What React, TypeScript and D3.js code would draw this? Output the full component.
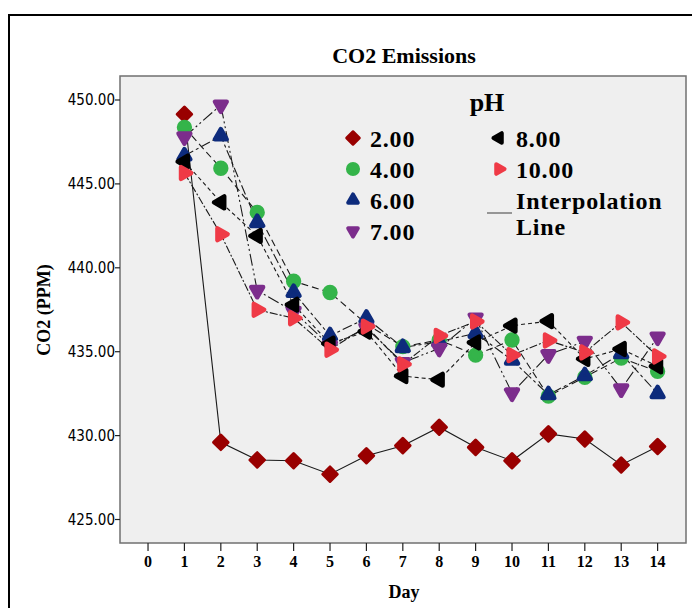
import React from "react";
import * as d3 from "d3";

const days = [1, 2, 3, 4, 5, 6, 7, 8, 9, 10, 11, 12, 13, 14];
const xTicks = [0, 1, 2, 3, 4, 5, 6, 7, 8, 9, 10, 11, 12, 13, 14];
const yTicks = [425, 430, 435, 440, 445, 450];

const ph2 = [449.15, 429.6, 428.55, 428.5, 427.7, 428.8, 429.4, 430.5, 429.3, 428.5, 430.1, 429.8, 428.25, 429.35];
const ph4 = [448.37, 445.93, 443.3, 439.2, 438.53, 436.65, 435.3, 435.7, 434.8, 435.7, 432.35, 433.48, 434.62, 433.83];
const ph6 = [446.67, 447.86, 442.7, 438.53, 435.95, 437.0, 435.25, 435.6, 436.1, 434.5, 432.44, 433.57, 434.88, 432.5];
const ph7 = [447.8, 449.7, 438.65, 437.4, 435.35, 436.4, 434.35, 435.2, 437.0, 432.54, 434.82, 435.62, 432.78, 435.87];
const ph8 = [446.33, 443.9, 441.9, 437.8, 435.48, 436.2, 433.55, 433.33, 435.55, 436.55, 436.82, 434.57, 435.16, 434.13];
const ph10 = [445.65, 442.0, 437.5, 437.0, 435.12, 436.5, 434.25, 435.95, 436.8, 434.8, 435.67, 434.96, 436.75, 434.72];

const seriesNames = ["2.00", "4.00", "6.00", "7.00", "8.00", "10.00"];
const seriesValues = [ph2, ph4, ph6, ph7, ph8, ph10];
const seriesColors = ["#990000", "#34b44a", "#0d2b7c", "#7c2d8c", "#000000", "#ef3a46"];
// symbol type and rotation for each pH
const seriesShapes = [
  { type: d3.symbolSquare, rotate: 45 },
  { type: d3.symbolCircle, rotate: 0 },
  { type: d3.symbolTriangle, rotate: 0 },
  { type: d3.symbolTriangle, rotate: 180 },
  { type: d3.symbolTriangle, rotate: -90 },
  { type: d3.symbolTriangle, rotate: 90 },
];
const seriesDash = ["none", "7,4", "10,3,3,3", "12,3,2,3,2,3", "4,3", "8,2,2,2"];

const W = 692, H = 608;
const plot = { left: 120, top: 76, right: 686, bottom: 543 };

const serif = "'Liberation Serif', 'Times New Roman', serif";
const narrow = "'Liberation Sans Narrow', 'DejaVu Sans Condensed', 'Liberation Sans', sans-serif";

const x = d3.scaleLinear().domain([-0.77, 14.78]).range([plot.left, plot.right]);
const y = d3.scaleLinear().domain([423.6, 451.43]).range([plot.bottom, plot.top]);

const symbolSize = (type: d3.SymbolType, legend: boolean) => {
  if (type === d3.symbolSquare) return legend ? 85 : 105;
  if (type === d3.symbolCircle) return legend ? 105 : 120;
  return legend ? 40 : 60;
};

const Marker = ({ i, cx, cy, legend = false }: { i: number; cx: number; cy: number; legend?: boolean }) => {
  const s = seriesShapes[i];
  const tri = s.type === d3.symbolTriangle;
  const path = d3.symbol().type(s.type).size(symbolSize(s.type, legend))() || "";
  return (
    <path
      d={path}
      transform={`translate(${cx},${cy}) rotate(${s.rotate})`}
      fill={seriesColors[i]}
      stroke={seriesColors[i]}
      strokeWidth={tri ? (legend ? 4 : 4.5) : legend ? 2.5 : 3}
      strokeLinejoin="round"
    />
  );
};

export default function App() {
  const line = d3
    .line<number>()
    .x((_, j) => x(days[j]))
    .y((v) => y(v));

  const legendCol1 = [0, 1, 2, 3];
  const legendCol2 = [4, 5];
  const rowY = [138, 169, 200, 231];

  return (
    <svg width={W} height={H} style={{ position: "absolute", left: 0, top: 0 }}>
      <rect x={0} y={0} width={W} height={H} fill="#ffffff" />
      <rect x={9} y={15} width={W + 10} height={H + 10} fill="none" stroke="#000" strokeWidth={2} />

      <text x={404} y={63} textAnchor="middle" fontFamily={serif} fontWeight="bold" fontSize={22}>
        CO2 Emissions
      </text>

      <rect
        x={plot.left}
        y={plot.top}
        width={plot.right - plot.left}
        height={plot.bottom - plot.top}
        fill="#efefef"
        stroke="#707070"
        strokeWidth={1.5}
      />

      {yTicks.map((t) => (
        <g key={t}>
          <line x1={plot.left - 5} x2={plot.left} y1={y(t)} y2={y(t)} stroke="#222" strokeWidth={1.2} />
          <text x={plot.left - 5} y={y(t) + 5} textAnchor="end" fontFamily={narrow} fontSize={15} fill="#000">
            {t.toFixed(2)}
          </text>
        </g>
      ))}

      {xTicks.map((t) => (
        <g key={t}>
          <line x1={x(t)} x2={x(t)} y1={plot.bottom} y2={plot.bottom + 8} stroke="#222" strokeWidth={1.2} />
          <text x={x(t)} y={plot.bottom + 24} textAnchor="middle" fontFamily={serif} fontWeight="bold" fontSize={16}>
            {t}
          </text>
        </g>
      ))}

      <text x={404} y={598} textAnchor="middle" fontFamily={serif} fontWeight="bold" fontSize={18}>
        Day
      </text>
      <text
        transform="translate(50,310) rotate(-90)"
        textAnchor="middle"
        fontFamily={serif}
        fontWeight="bold"
        fontSize={18}
      >
        CO2 (PPM)
      </text>

      {seriesValues.map((vals, i) => (
        <g key={seriesNames[i]}>
          <path
            d={line(vals) || ""}
            fill="none"
            stroke="#1a1a1a"
            strokeWidth={1.1}
            strokeDasharray={seriesDash[i]}
          />
        </g>
      ))}
      {seriesValues.map((vals, i) => (
        <g key={"m" + seriesNames[i]}>
          {vals.map((v, j) => (
            <Marker key={j} i={i} cx={x(days[j])} cy={y(v)} />
          ))}
        </g>
      ))}

      {/* legend */}
      <text x={487} y={111} textAnchor="middle" fontFamily={serif} fontWeight="bold" fontSize={26}>
        pH
      </text>
      {legendCol1.map((i, r) => (
        <g key={"l" + i}>
          <Marker i={i} cx={353} cy={rowY[r]} legend />
          <text x={370} y={rowY[r] + 9} fontFamily={serif} fontWeight="bold" fontSize={24} letterSpacing={0.8}>
            {seriesNames[i]}
          </text>
        </g>
      ))}
      {legendCol2.map((i, r) => (
        <g key={"l" + i}>
          <Marker i={i} cx={499} cy={rowY[r]} legend />
          <text x={516} y={rowY[r] + 9} fontFamily={serif} fontWeight="bold" fontSize={24} letterSpacing={0.8}>
            {seriesNames[i]}
          </text>
        </g>
      ))}
      <line x1={487} x2={512} y1={213} y2={213} stroke="#666" strokeWidth={1.3} />
      <text x={516} y={rowY[2] + 9} fontFamily={serif} fontWeight="bold" fontSize={24} letterSpacing={0.8}>
        Interpolation
      </text>
      <text x={516} y={235} fontFamily={serif} fontWeight="bold" fontSize={24} letterSpacing={0.8}>
        Line
      </text>
    </svg>
  );
}
